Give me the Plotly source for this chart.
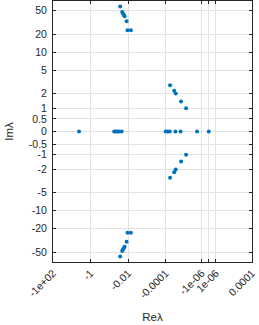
import numpy as np
import plotly.graph_objects as go

# ---- data (eigenvalues) ----
real_re = [-4.1, -0.055, -0.045, -0.036, -0.030, -0.022,
           -1.0e-4, -7.9e-5, -6.0e-5, -3.0e-5, -1.6e-5, -2.0e-6, 0.0]
real_im = [0.0] * len(real_re)

low_re = [-5.8e-5, -3.5e-5, -2.9e-5, -1.5e-5, -8.1e-6]
low_im = [2.82, 2.25, 2.0, 1.41, 1.0]

high_re = [-0.0263, -0.0206, -0.0189, -0.0167, -0.0153, -0.0120, -0.0107, -0.0071]
high_im = [58.0, 47.0, 44.5, 42.0, 40.0, 33.3, 23.6, 23.6]

x_tick_vals = [-1e2, -1, -1e-2, -1e-4, -1e-6, 0, 1e-6, 1e-4]
x_tick_text = ["-1e+02", "-1", "-0.01", "-0.0001", "-1e-06", "", "1e-06", "0.0001"]
y_tick_vals = [-50, -20, -10, -5, -2, -1, -0.5, 0, 0.5, 1, 2, 5, 10, 20, 50]
y_tick_text = ["-50", "-20", "-10", "-5", "-2", "-1", "-0.5", "0", "0.5", "1", "2", "5", "10", "20", "50"]

# ---- symmetric-log (asinh) scales ----
XC = 1e-6
YC = 1.0
def tx(v):
    return np.arcsinh(np.asarray(v, dtype=float) / XC) / np.log(10)
def ty(v):
    return np.arcsinh(np.asarray(v, dtype=float) / YC) / np.log(10)

re_all = real_re + low_re + low_re + high_re + high_re
im_all = real_im + low_im + [-v for v in low_im] + high_im + [-v for v in high_im]

fig = go.Figure()
fig.add_trace(go.Scatter(
    x=tx(re_all), y=ty(im_all), mode="markers",
    marker=dict(color="#0072BD", size=4, symbol="circle", line=dict(width=0)),
    showlegend=False, hoverinfo="skip"))

font = dict(family="Liberation Sans, Arial, sans-serif", size=10.5, color="#262626")
axis_common = dict(
    showline=True, linecolor="#262626", linewidth=1, mirror="ticks",
    ticks="inside", ticklen=3, tickcolor="#262626",
    showgrid=True, gridcolor="#E3E3E3", gridwidth=1, zeroline=False,
    tickfont=font, automargin=False,
)

yr = 2.157
fig.update_layout(
    width=259, height=325,
    margin=dict(l=53, r=7, t=1, b=63, autoexpand=False),
    paper_bgcolor="white", plot_bgcolor="white",
    font=font,
    xaxis=dict(axis_common,
               range=[float(tx(-1e2)), float(tx(1e-4))],
               tickmode="array", tickvals=list(tx(x_tick_vals)), ticktext=x_tick_text,
               tickangle=-45,
               title=dict(text="Reλ", font=dict(font, size=11.5), standoff=13)),
    yaxis=dict(axis_common,
               range=[-yr, yr],
               tickmode="array", tickvals=list(ty(y_tick_vals)), ticktext=y_tick_text,
               ticklabelstandoff=3,
               title=dict(text="Imλ", font=dict(font, size=11.5), standoff=12)),
)

fig.write_html("out.html", config={"displayModeBar": False},
               post_script="document.body.style.margin='0';document.body.style.padding='0';")
